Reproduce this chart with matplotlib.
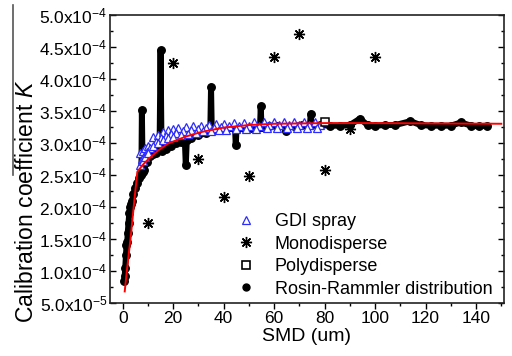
import matplotlib
matplotlib.use("Agg")
import matplotlib.pyplot as plt
from matplotlib.lines import Line2D
from matplotlib.ticker import MultipleLocator

plt.rcParams["font.family"] = ["Liberation Sans", "DejaVu Sans"]
plt.rcParams["mathtext.fontset"] = "custom"
plt.rcParams["mathtext.rm"] = "Liberation Sans"
plt.rcParams["mathtext.it"] = "Liberation Sans:italic"

# Rosin-Rammler distribution (SMD um, K in 1e-4)
rr_x = [0.6, 0.8, 1.0, 1.3, 1.5, 1.8, 2.0, 2.3, 2.6, 3.0, 3.3, 3.8, 4.2, 5.0, 5.8, 6.5, 7.1,
        7.4, 7.6, 7.9, 8.4, 9.5, 11, 12, 13, 14.6, 15.0, 15.4, 17, 19, 21, 23, 24.6, 25.0,
        25.4, 27, 30, 33, 34.7, 35.0, 35.3, 38, 41, 44.5, 44.8, 45.1, 48, 51, 54.4, 54.7,
        55.0, 58, 61, 64.3, 64.6, 64.9, 68, 71, 74.2, 74.5, 74.8, 78, 82, 86, 90, 94, 97,
        100, 104, 108, 114, 118, 122, 126, 130, 134, 138, 141, 144.4]
rr_y = [0.85, 0.92, 1.05, 1.25, 1.40, 1.45, 1.60, 1.75, 1.90, 2.00, 2.05, 2.10, 2.20, 2.30,
        2.37, 2.45, 2.50, 2.52, 3.52, 2.55, 2.58, 2.70, 2.79, 2.82, 2.85, 2.90, 4.45, 2.87,
        2.90, 2.95, 3.00, 3.02, 3.05, 2.65, 3.05, 3.08, 3.12, 3.15, 3.18, 3.88, 3.18, 3.20,
        3.22, 3.22, 2.97, 3.22, 3.23, 3.24, 3.25, 3.57, 3.25, 3.26, 3.26, 3.25, 3.18, 3.25,
        3.27, 3.28, 3.28, 3.46, 3.28, 3.28, 3.27, 3.27, 3.28, 3.38, 3.28, 3.27, 3.28, 3.28,
        3.34, 3.28, 3.27, 3.27, 3.27, 3.32, 3.27, 3.26, 3.27]

# GDI spray
gdi_x = [7, 8, 9, 10, 12, 14, 16, 18, 20, 22, 25, 28, 31, 34, 37, 40, 44, 48, 52, 56, 60,
         64, 68, 72, 76, 79,
         7.5, 8.5, 9.5, 11, 13, 15, 17, 19, 21, 24, 27, 30, 33, 36, 39, 42, 46, 50, 54, 58,
         62, 66, 70, 74, 78,
         7, 8, 9, 10, 12, 14, 16, 18, 20, 23, 26, 29, 32, 35, 38, 41, 45, 49, 53, 57, 61,
         65, 69, 73, 77]
gdi_y = [2.85, 2.88, 2.92, 2.95, 3.10, 3.13, 3.17, 3.20, 3.22, 3.23, 3.25, 3.26, 3.27, 3.28,
         3.29, 3.30, 3.31, 3.31, 3.32, 3.32, 3.32, 3.32, 3.32, 3.32, 3.32, 3.32,
         2.75, 2.80, 2.86, 2.92, 3.02, 3.07, 3.11, 3.14, 3.16, 3.18, 3.20, 3.22, 3.23, 3.24,
         3.25, 3.26, 3.27, 3.27, 3.27, 3.28, 3.28, 3.28, 3.28, 3.28, 3.28,
         2.65, 2.72, 2.78, 2.85, 2.95, 3.00, 3.05, 3.08, 3.10, 3.12, 3.14, 3.16, 3.18, 3.19,
         3.20, 3.21, 3.22, 3.22, 3.22, 3.23, 3.23, 3.23, 3.24, 3.24, 3.24]

# Monodisperse
mono_x = [10, 20, 30, 40, 50, 60, 70, 80, 90, 100]
mono_y = [1.75, 4.25, 2.75, 2.15, 2.48, 4.35, 4.70, 2.58, 3.22, 4.35]

# Polydisperse
poly_x = [80]
poly_y = [3.33]

# fitted curve (red)
fit_x = [0.8, 1.5, 2.5, 3.2, 4.5, 5.8, 8, 10, 14, 18, 25, 31, 40, 50, 60, 80, 100, 150]
fit_y = [0.68, 0.95, 1.30, 1.54, 2.06, 2.55, 2.66, 2.74, 2.88, 2.99, 3.10, 3.17, 3.24,
         3.28, 3.30, 3.31, 3.31, 3.30]

ytick_vals = [0.5, 1.0, 1.5, 2.0, 2.5, 3.0, 3.5, 4.0, 4.5, 5.0]
ytick_labels = [r"$\mathregular{5.0x10^{-5}}$", r"$\mathregular{1.0x10^{-4}}$",
                r"$\mathregular{1.5x10^{-4}}$", r"$\mathregular{2.0x10^{-4}}$",
                r"$\mathregular{2.5x10^{-4}}$", r"$\mathregular{3.0x10^{-4}}$",
                r"$\mathregular{3.5x10^{-4}}$", r"$\mathregular{4.0x10^{-4}}$",
                r"$\mathregular{4.5x10^{-4}}$", r"$\mathregular{5.0x10^{-4}}$"]
xtick_vals = [0, 20, 40, 60, 80, 100, 120, 140]

fig = plt.figure(figsize=(5.12, 3.56), dpi=100)
ax = fig.add_axes([0.215, 0.149, 0.769, 0.809])

s = 1e-4
ax.plot(rr_x, [v * s for v in rr_y], color="black", lw=4.3, marker="o", ms=5.4,
        mec="black", mfc="black", solid_capstyle="round", zorder=2)
ax.plot(gdi_x, [v * s for v in gdi_y], ls="none", marker="^", ms=5.5, mec="#2b2bff",
        mfc="white", mew=0.9, zorder=3)
ax.plot(mono_x, [v * s for v in mono_y], ls="none", marker=(8, 2, 0), ms=8,
        mec="black", mew=1.0, zorder=3)
ax.plot(poly_x, [v * s for v in poly_y], ls="none", marker="s", ms=5.5, mec="black",
        mfc="white", mew=1.1, zorder=4)
ax.plot(fit_x, [v * s for v in fit_y], color="red", lw=1.4, zorder=5)

ax.set_xlim(-5, 151)
ax.set_ylim(0.5e-4, 5.0e-4)
ax.set_xticks(xtick_vals)
ax.xaxis.set_minor_locator(MultipleLocator(10))
ax.set_yticks([v * s for v in ytick_vals])
ax.set_yticklabels(ytick_labels)
ax.yaxis.set_minor_locator(MultipleLocator(0.25e-4))
ax.tick_params(axis="both", which="major", labelsize=12.5, length=4, width=1,
               direction="out", pad=2)
ax.tick_params(axis="both", which="minor", length=2.5, width=1, direction="out")
ax.tick_params(axis="y", which="both", right=True, labelright=False)
ax.tick_params(axis="y", which="both", direction="in")
for sp in ax.spines.values():
    sp.set_linewidth(1.2)
    sp.set_color("#222222")

ax.set_xlabel("SMD (um)", fontsize=14, labelpad=1.5)
fig.text(0.052, 0.433, r"Calibration coefficient $\mathit{K}$", rotation=90,
         fontsize=16.5, ha="center", va="center")
fig.add_artist(Line2D([0.026, 0.026], [0.986, 0.508], color="#555555", lw=1.2))

handles = [
    Line2D([], [], ls="none", marker="^", ms=6, mec="#2b2bff", mfc="white", mew=0.9),
    Line2D([], [], ls="none", marker=(8, 2, 0), ms=8, mec="black", mew=1.0),
    Line2D([], [], ls="none", marker="s", ms=6, mec="black", mfc="white", mew=1.2),
    Line2D([], [], ls="none", marker="o", ms=5, mec="black", mfc="black"),
]
labels = ["GDI spray", "Monodisperse", "Polydisperse", "Rosin-Rammler distribution"]
ax.legend(handles, labels, loc="lower left", bbox_to_anchor=(0.29, -0.025),
          frameon=False, fontsize=13, handlelength=1.0, handletextpad=1.1,
          labelspacing=0.3, borderpad=0.2)

fig.savefig("out.png", dpi=100)
